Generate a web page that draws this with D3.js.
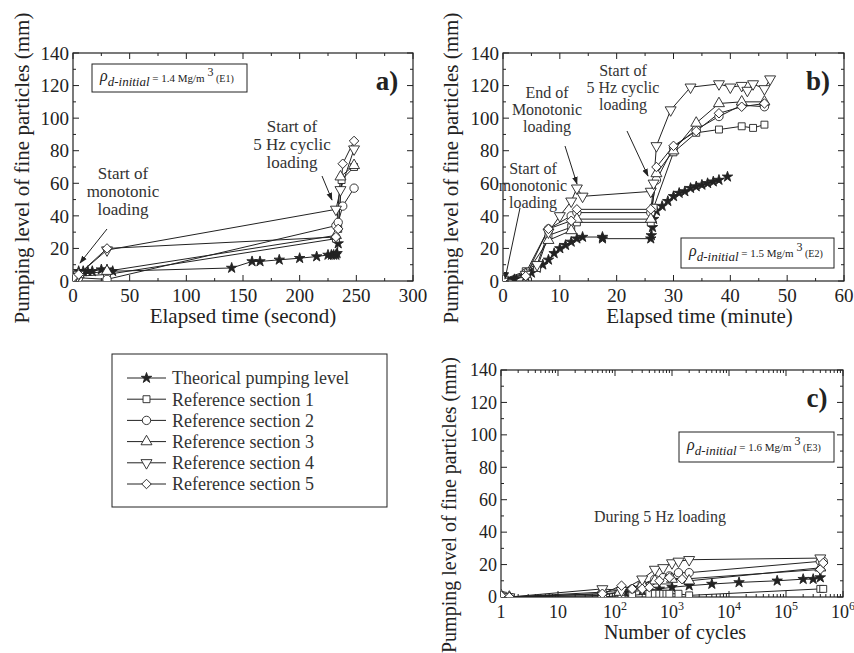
<!DOCTYPE html>
<html>
<head>
<meta charset="utf-8">
<script src="https://cdn.jsdelivr.net/npm/d3@7"></script>
<style>
  body { margin: 0; background: #fff; }
  svg, svg text { font-family: "Liberation Serif", "Times New Roman", Times, serif; }
</style>
</head>
<body>
<div id="chart"></div>
<script>
// series names and marker shapes
var seriesNames = ['Theorical pumping level', 'Reference section 1', 'Reference section 2',
    'Reference section 3', 'Reference section 4', 'Reference section 5'];
var seriesShapes = ['star', 'square', 'circle', 'triUp', 'triDown', 'diamond'];

// panel a) elapsed time (second) vs pumping level (mm)
var aTheo = [[0, 2], [5, 6], [9, 6], [13, 6], [17, 6], [25, 7], [30, 7], [35, 6], [140, 8], [158, 12], [165, 12],
    [182, 13], [200, 14], [215, 15], [225, 16], [228, 16], [230, 16], [232, 16], [233, 17], [234, 23]];
var aRef1 = [[0, 0], [5, 3], [30, 4], [232, 26], [234, 32], [237, 62], [248, 70]];
var aRef2 = [[0, 1], [5, 2], [30, 1], [232, 34], [234, 36], [238, 46], [248, 57]];
var aRef3 = [[0, 0], [5, 4], [30, 6], [232, 28], [236, 64], [248, 71]];
var aRef4 = [[0, 1], [5, 4], [30, 19], [232, 44], [236, 56], [248, 81]];
var aRef5 = [[0, 2], [5, 4], [30, 20], [232, 27], [234, 32], [238, 72], [248, 86]];

// panel b) elapsed time (minute) vs pumping level (mm)
var bTheo = [[0, 1], [2, 1], [4, 3], [5, 5], [6, 8], [7, 10], [8, 13], [9, 17], [10, 20], [11, 22], [12, 24],
    [13, 26], [14, 27], [17.5, 27], [17.5, 26], [26, 26], [26.1, 28], [26.3, 33], [26.5, 38], [27, 43], [28, 46],
    [29, 49], [30, 52], [31, 54], [32, 55], [33, 57], [34, 58], [35, 59], [36, 60], [37, 61], [38, 62], [39.5, 64]];
var bRef1 = [[0, 1], [4, 6], [6, 8], [8, 28], [12, 33], [13, 36], [26, 36], [26.5, 45], [30, 79], [34, 91],
    [38, 93], [42, 95], [44, 94], [46, 96]];
var bRef2 = [[0, 1], [4, 5], [8, 32], [12, 40], [13, 42], [26, 42], [27, 62], [30, 82], [34, 93], [38, 101],
    [42, 108], [46, 107]];
var bRef3 = [[0, 1], [4, 4], [8, 25], [12, 31], [13, 38], [26, 38], [27, 66], [30, 80], [34, 97], [38, 109],
    [42, 110], [46, 110]];
var bRef4 = [[0, 1], [4, 4], [6, 10], [8, 30], [10, 40], [12, 49], [13, 57], [14, 52], [26, 55], [26.5, 60],
    [27, 83], [29.5, 105], [33, 119], [38, 121], [40, 119], [42, 120], [43, 117], [44, 121], [46, 118], [47, 124]];
var bRef5 = [[0, 1], [4, 3], [8, 32], [12, 37], [13, 44], [26, 44], [27, 70], [30, 83], [34, 92], [38, 103],
    [42, 107], [46, 109]];

// panel c) number of cycles vs pumping level (mm)
var cTheo = [[1, 1], [1.4, 0], [60, 2], [150, 3], [300, 4], [600, 5], [1000, 6], [2000, 7], [5000, 8],
    [15000, 9], [70000, 10], [200000, 11], [300000, 11], [400000, 12]];
var cRef1 = [[1, 1], [1.4, 0], [60, 0], [130, 1], [200, 1], [400, 2], [500, 2], [600, 2], [700, 2], [800, 2],
    [900, 2], [1300, 2], [2000, 1], [400000, 5], [450000, 5]];
var cRef2 = [[1, 1], [1.4, 0], [60, 3], [200, 5], [300, 8], [500, 11], [700, 12], [900, 13], [1300, 15],
    [2000, 15], [400000, 22], [450000, 22]];
var cRef3 = [[1, 1], [1.4, 0], [60, 1], [120, 3], [300, 8], [500, 10], [800, 10], [1000, 11], [2000, 10],
    [400000, 18]];
var cRef4 = [[1, 1], [1.4, 0], [60, 5], [130, 4], [300, 11], [500, 17], [700, 18], [1000, 21], [1300, 22],
    [2000, 23], [400000, 24]];
var cRef5 = [[1, 1], [1.4, 0], [60, 2], [130, 7], [200, 5], [300, 5], [400, 6], [600, 10], [900, 12],
    [1500, 11], [400000, 17], [450000, 21]];

// tick values
var yTicks = [0, 20, 40, 60, 80, 100, 120, 140];
var aTicks = [0, 50, 100, 150, 200, 250, 300];
var bTicks = [0, 10, 20, 30, 40, 50, 60];
var cTicks = [1, 10, 100, 1000, 10000, 100000, 1000000];
var cTickLabels = [['1', ''], ['10', ''], ['10', '2'], ['10', '3'], ['10', '4'], ['10', '5'], ['10', '6']];

var FONT = '"Liberation Serif", "Times New Roman", Times, serif';
var svg = d3.select('#chart').append('svg').attr('width', 854).attr('height', 653)
    .attr('font-family', FONT);
var ink = '#222';

function markerPath(shape) {
    if (shape == 'star') return d3.symbol().type(d3.symbolStar).size(34)();
    if (shape == 'square') return d3.symbol().type(d3.symbolSquare).size(48)();
    if (shape == 'circle') return d3.symbol().type(d3.symbolCircle).size(55)();
    if (shape == 'diamond') return d3.symbol().type(d3.symbolSquare).size(45)();
    return d3.symbol().type(d3.symbolTriangle).size(52)();
}
function markerRot(shape) {
    if (shape == 'triDown') return 180;
    if (shape == 'diamond') return 45;
    return 0;
}

function drawPanel(p) {
    var g = svg.append('g');
    var x = p.x, y = p.y;
    var x0 = x.range()[0], x1 = x.range()[1], y0 = y.range()[0], y1 = y.range()[1];

    // clip so nothing leaves the frame
    var clipId = 'clip' + p.name;
    svg.append('clipPath').attr('id', clipId).append('rect')
        .attr('x', x0).attr('y', y1 - 6).attr('width', x1 - x0 + 6).attr('height', y0 - y1 + 6);

    // y ticks, both sides
    var yMinor = d3.range(10, 140, 20);
    yTicks.forEach(function (v) {
        g.append('line').attr('x1', x0).attr('x2', x0 + 6).attr('y1', y(v)).attr('y2', y(v)).attr('stroke', ink);
        g.append('line').attr('x1', x1).attr('x2', x1 - 6).attr('y1', y(v)).attr('y2', y(v)).attr('stroke', ink);
        g.append('text').attr('x', x0 - 4).attr('y', y(v)).attr('dy', '0.35em')
            .attr('text-anchor', 'end').attr('font-size', p.tickSize).attr('fill', ink).text(v);
    });
    yMinor.forEach(function (v) {
        g.append('line').attr('x1', x0).attr('x2', x0 + 3).attr('y1', y(v)).attr('y2', y(v)).attr('stroke', ink);
        g.append('line').attr('x1', x1).attr('x2', x1 - 3).attr('y1', y(v)).attr('y2', y(v)).attr('stroke', ink);
    });

    // x ticks, bottom and top
    p.xTicks.forEach(function (v, i) {
        g.append('line').attr('x1', x(v)).attr('x2', x(v)).attr('y1', y0).attr('y2', y0 - 6).attr('stroke', ink);
        g.append('line').attr('x1', x(v)).attr('x2', x(v)).attr('y1', y1).attr('y2', y1 + 6).attr('stroke', ink);
        var t = g.append('text').attr('x', x(v)).attr('y', y0 + 21)
            .attr('text-anchor', 'middle').attr('font-size', p.tickSize).attr('fill', ink);
        if (p.tickLabels) {
            t.append('tspan').text(p.tickLabels[i][0]);
            if (p.tickLabels[i][1]) t.append('tspan').attr('font-size', 12).attr('dy', -8).text(p.tickLabels[i][1]);
        } else {
            t.text(v);
        }
    });
    p.xMinor.forEach(function (v) {
        g.append('line').attr('x1', x(v)).attr('x2', x(v)).attr('y1', y0).attr('y2', y0 - 3).attr('stroke', ink);
        g.append('line').attr('x1', x(v)).attr('x2', x(v)).attr('y1', y1).attr('y2', y1 + 3).attr('stroke', ink);
    });

    // frame
    g.append('rect').attr('x', x0).attr('y', y1).attr('width', x1 - x0).attr('height', y0 - y1)
        .attr('fill', 'none').attr('stroke', ink).attr('stroke-width', 1.2);

    // titles
    g.append('text').attr('x', (x0 + x1) / 2 + p.xTitleDx).attr('y', y0 + 42)
        .attr('text-anchor', 'middle').attr('font-size', p.titleSize).attr('fill', ink).text(p.xTitle);
    g.append('text').attr('transform', 'translate(' + p.yTitleX + ',' + p.yTitleY + ') rotate(-90)')
        .attr('text-anchor', 'middle').attr('font-size', p.titleSize).attr('fill', ink)
        .text('Pumping level of fine particles (mm)');

    // series lines and markers
    var line = d3.line().x(function (d) { return x(d[0]); }).y(function (d) { return y(d[1]); });
    var plot = g.append('g').attr('clip-path', 'url(#' + clipId + ')');
    p.series.forEach(function (data, i) {
        plot.append('path').datum(data).attr('d', line)
            .attr('fill', 'none').attr('stroke', ink).attr('stroke-width', 1);
    });
    p.series.forEach(function (data, i) {
        var shape = seriesShapes[i];
        plot.selectAll('.m' + i).data(data).enter().append('path')
            .attr('d', markerPath(shape))
            .attr('transform', function (d) {
                return 'translate(' + x(d[0]) + ',' + y(d[1]) + ') rotate(' + markerRot(shape) + ')';
            })
            .attr('fill', shape == 'star' ? ink : '#fff')
            .attr('stroke', ink).attr('stroke-width', 0.9);
    });

    // panel letter
    g.append('text').attr('x', x1 - 26).attr('y', p.letterY).attr('text-anchor', 'middle')
        .attr('font-size', 27).attr('font-weight', 'bold').attr('fill', ink).text(p.name + ')');

    // density box
    var b = p.box;
    g.append('rect').attr('x', b[0]).attr('y', b[1]).attr('width', b[2]).attr('height', b[3])
        .attr('fill', '#fff').attr('stroke', ink).attr('stroke-width', 1);
    var bt = g.append('text').attr('x', b[0] + 8).attr('y', b[1] + b[3] / 2 + 3).attr('fill', ink);
    bt.append('tspan').attr('font-style', 'italic').attr('font-size', 16).text('ρ');
    bt.append('tspan').attr('font-style', 'italic').attr('font-size', 13).attr('dy', 5).text('d-initial');
    bt.append('tspan').attr('font-size', 11).attr('dy', -4).text(' = ' + p.rho + ' Mg/m ');
    bt.append('tspan').attr('font-size', 12).attr('dy', -6).text('3');
    bt.append('tspan').attr('font-size', 10).attr('dy', 6).text(' (' + p.test + ')');

    return g;
}

function note(lines, cx, y, dy, size) {
    var t = svg.append('text').attr('text-anchor', 'middle').attr('font-size', size || 16).attr('fill', '#333');
    lines.forEach(function (s, i) {
        t.append('tspan').attr('x', cx).attr('y', y + i * dy).text(s);
    });
}

// arrow head marker
svg.append('defs').append('marker').attr('id', 'arrow').attr('viewBox', '0 0 10 10')
    .attr('refX', 9).attr('refY', 5).attr('markerWidth', 8).attr('markerHeight', 8)
    .attr('orient', 'auto-start-reverse')
    .append('path').attr('d', 'M0,1.5 L10,5 L0,8.5 Z').attr('fill', ink);
function arrow(xa, ya, xb, yb) {
    svg.append('line').attr('x1', xa).attr('y1', ya).attr('x2', xb).attr('y2', yb)
        .attr('stroke', ink).attr('stroke-width', 1).attr('marker-end', 'url(#arrow)');
}

// ---- panel a
var pa = drawPanel({
    name: 'a',
    x: d3.scaleLinear().domain([0, 300]).range([73, 413]),
    y: d3.scaleLinear().domain([0, 140]).range([281, 53]),
    xTicks: aTicks, xMinor: d3.range(25, 300, 50),
    series: [aTheo, aRef1, aRef2, aRef3, aRef4, aRef5],
    xTitle: 'Elapsed time (second)', xTitleDx: 0, yTitleX: 29, yTitleY: 168,
    tickSize: 19, titleSize: 21, letterY: 90,
    box: [92, 64, 155, 28], rho: '1.4', test: 'E1'
});
note(['Start of', 'monotonic', 'loading'], 123, 179, 18, 17);
arrow(107, 229, 80, 263);
note(['Start of', '5 Hz cyclic', 'loading'], 292, 132, 18, 17);
arrow(322, 176, 332, 200);

// ---- panel b
var pb = drawPanel({
    name: 'b',
    x: d3.scaleLinear().domain([0, 60]).range([503, 844]),
    y: d3.scaleLinear().domain([0, 140]).range([281, 53]),
    xTicks: bTicks, xMinor: d3.range(5, 60, 10),
    series: [bTheo, bRef1, bRef2, bRef3, bRef4, bRef5],
    xTitle: 'Elapsed time (minute)', xTitleDx: 26, yTitleX: 458, yTitleY: 168,
    tickSize: 19, titleSize: 21, letterY: 90,
    box: [681, 238, 153, 30], rho: '1.5', test: 'E2'
});
note(['Start of', 'monotonic', 'loading'], 533, 174, 17, 16);
arrow(520, 208, 505, 279);
note(['End of', 'Monotonic', 'loading'], 547, 98, 17, 16);
arrow(565, 146, 577, 184);
note(['Start of', '5 Hz cyclic', 'loading'], 623, 76, 17, 16);
arrow(627, 131, 648, 176);

// ---- panel c
var cMinor = [];
[1, 10, 100, 1000, 10000, 100000].forEach(function (d) {
    d3.range(2, 10).forEach(function (k) { cMinor.push(d * k); });
});
var pc = drawPanel({
    name: 'c',
    x: d3.scaleLog().domain([1, 1000000]).range([501, 843]),
    y: d3.scaleLinear().domain([0, 140]).range([597, 370]),
    xTicks: cTicks, xMinor: cMinor, tickLabels: cTickLabels,
    series: [cTheo, cRef1, cRef2, cRef3, cRef4, cRef5],
    xTitle: 'Number of cycles', xTitleDx: 3, yTitleX: 456, yTitleY: 505,
    tickSize: 18, titleSize: 20, letterY: 407,
    box: [679, 432, 155, 30], rho: '1.6', test: 'E3'
});
note(['During 5 Hz loading'], 660, 522, 0, 16);

// ---- legend
var leg = svg.append('g');
leg.append('rect').attr('x', 112).attr('y', 354).attr('width', 275).attr('height', 153)
    .attr('fill', '#fff').attr('stroke', ink).attr('stroke-width', 1);
seriesNames.forEach(function (name, i) {
    var ly = 378 + i * 21.2;
    leg.append('line').attr('x1', 127).attr('x2', 166).attr('y1', ly).attr('y2', ly).attr('stroke', ink);
    var shape = seriesShapes[i];
    leg.append('path').attr('d', markerPath(shape))
        .attr('transform', 'translate(146.5,' + ly + ') rotate(' + markerRot(shape) + ')')
        .attr('fill', shape == 'star' ? ink : '#fff').attr('stroke', ink).attr('stroke-width', 0.9);
    leg.append('text').attr('x', 172).attr('y', ly).attr('dy', '0.35em')
        .attr('font-size', 18).attr('fill', '#333').text(name);
});
</script>
</body>
</html>
